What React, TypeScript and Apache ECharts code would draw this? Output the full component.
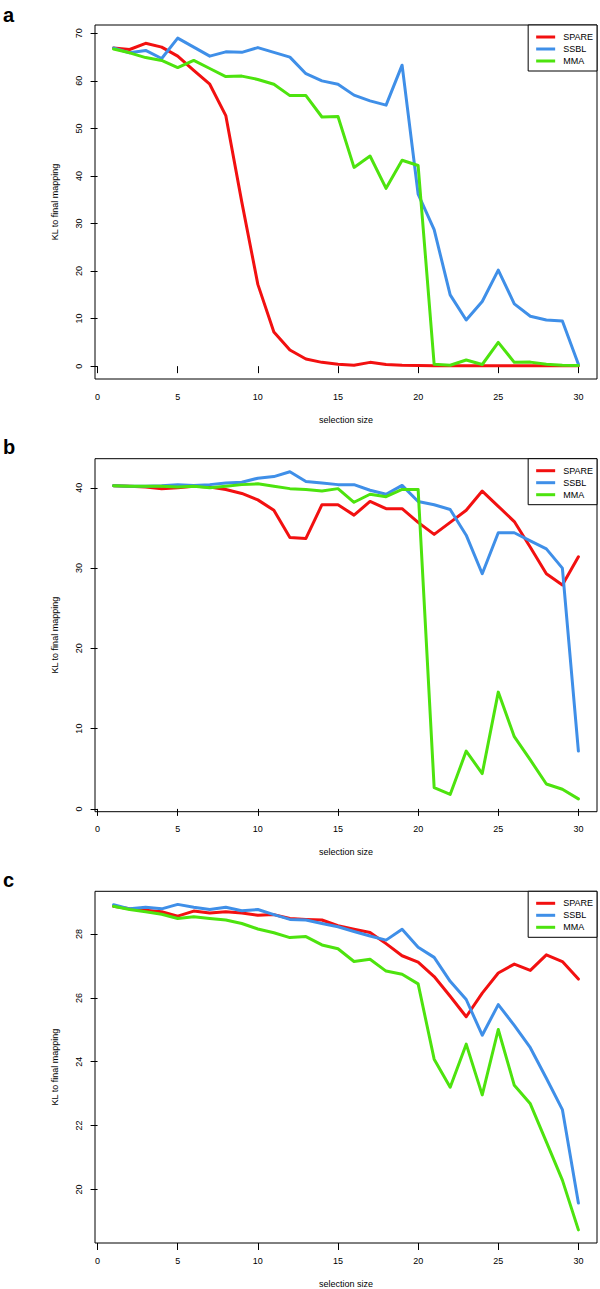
import React, { useEffect, useRef } from "react";
import * as echarts from "echarts";

const selectionSize = [1, 2, 3, 4, 5, 6, 7, 8, 9, 10, 11, 12, 13, 14, 15, 16, 17, 18, 19, 20, 21, 22, 23, 24, 25, 26, 27, 28, 29, 30];
const seriesNames = ["SPARE", "SSBL", "MMA"];
const seriesColors = ["#F21010", "#3F8FE8", "#4DE30E"];
const xTicks = [0, 5, 10, 15, 20, 25, 30];

// panel a
const aSpare = [66.9, 66.6, 67.9, 67.1, 65.2, 62.2, 59.3, 52.7, 34.5, 17.2, 7.2, 3.4, 1.5, 0.8, 0.4, 0.2, 0.8, 0.35, 0.2, 0.15, 0.1, 0.1, 0.1, 0.1, 0.1, 0.1, 0.1, 0.1, 0.1, 0.1];
const aSsbl = [66.9, 65.9, 66.4, 64.7, 69.0, 67.1, 65.2, 66.1, 66.0, 67.0, 66.0, 65.0, 61.5, 60.0, 59.3, 57.0, 55.8, 54.9, 63.3, 36.2, 28.7, 15.0, 9.7, 13.6, 20.2, 13.1, 10.5, 9.7, 9.5, 0.4];
const aMma = [66.7, 65.9, 64.9, 64.3, 62.8, 64.3, 62.6, 60.9, 61.0, 60.3, 59.3, 56.9, 56.9, 52.4, 52.5, 41.8, 44.2, 37.4, 43.3, 42.2, 0.4, 0.2, 1.3, 0.35, 5.0, 0.8, 0.85, 0.4, 0.2, 0.15];
const aYTicks = [0, 10, 20, 30, 40, 50, 60, 70];

// panel b
const bSpare = [40.26, 40.2, 40.1, 39.9, 40.0, 40.2, 40.1, 39.8, 39.3, 38.5, 37.2, 33.8, 33.7, 37.9, 37.9, 36.6, 38.3, 37.4, 37.4, 35.7, 34.2, 35.7, 37.2, 39.6, 37.7, 35.8, 32.6, 29.3, 27.9, 31.4];
const bSsbl = [40.26, 40.2, 40.2, 40.26, 40.4, 40.3, 40.4, 40.6, 40.7, 41.2, 41.4, 42.0, 40.8, 40.6, 40.4, 40.4, 39.7, 39.2, 40.3, 38.3, 37.9, 37.3, 34.1, 29.3, 34.4, 34.4, 33.4, 32.4, 30.0, 7.2];
const bMma = [40.26, 40.2, 40.2, 40.2, 40.1, 40.2, 40.0, 40.2, 40.4, 40.5, 40.2, 39.9, 39.8, 39.6, 39.9, 38.2, 39.2, 38.9, 39.8, 39.8, 2.65, 1.8, 7.2, 4.4, 14.55, 9.0, 6.1, 3.1, 2.45, 1.25];
const bYTicks = [0, 10, 20, 30, 40];

// panel c
const cSpare = [28.87, 28.79, 28.75, 28.7, 28.56, 28.72, 28.66, 28.7, 28.66, 28.59, 28.61, 28.49, 28.46, 28.44, 28.26, 28.15, 28.05, 27.7, 27.32, 27.12, 26.67, 26.05, 25.41, 26.15, 26.78, 27.06, 26.86, 27.35, 27.14, 26.59];
const cSsbl = [28.92, 28.79, 28.84, 28.79, 28.93, 28.84, 28.77, 28.84, 28.73, 28.77, 28.61, 28.46, 28.44, 28.33, 28.23, 28.08, 27.94, 27.81, 28.15, 27.59, 27.27, 26.52, 25.95, 24.83, 25.79, 25.14, 24.44, 23.48, 22.5, 19.57];
const cMma = [28.87, 28.77, 28.7, 28.62, 28.49, 28.54, 28.49, 28.44, 28.33, 28.16, 28.04, 27.89, 27.92, 27.66, 27.54, 27.14, 27.21, 26.84, 26.74, 26.44, 24.08, 23.2, 24.55, 22.96, 25.01, 23.26, 22.68, 21.49, 20.29, 18.73];
const cYTicks = [20, 22, 24, 26, 28];

const FONT = "'Liberation Sans', Arial, Helvetica, sans-serif";

const panels = [
  { label: "a", data: [aSpare, aSsbl, aMma], yTicks: aYTicks, yMin: -2.7, yMax: 71.75, top: 25, height: 354, labelY: 15 },
  { label: "b", data: [bSpare, bSsbl, bMma], yTicks: bYTicks, yMin: -0.35, yMax: 43.63, top: 458.7, height: 353, labelY: 447 },
  { label: "c", data: [cSpare, cSsbl, cMma], yTicks: cYTicks, yMin: 18.32, yMax: 29.34, top: 891.3, height: 353.7, labelY: 880 },
];

export default function App() {
  const ref = useRef<HTMLDivElement>(null);
  useEffect(() => {
    if (!ref.current) return;
    const chart = echarts.init(ref.current, undefined, { renderer: "svg" });
    const grids: any[] = [];
    const xAxes: any[] = [];
    const yAxes: any[] = [];
    const series: any[] = [];
    const legends: any[] = [];
    const graphics: any[] = [];
    panels.forEach((p, i) => {
      grids.push({
        left: 95,
        width: 502,
        top: p.top,
        height: p.height,
        show: true,
        borderColor: "#000",
        borderWidth: 1,
        backgroundColor: "transparent",
      });
      xAxes.push({
        type: "value",
        gridIndex: i,
        min: -0.16,
        max: 31.16,
        name: "selection size",
        nameLocation: "middle",
        nameGap: 36,
        nameTextStyle: { fontSize: 9, color: "#000", fontFamily: FONT },
        axisLine: { show: false },
        splitLine: { show: false },
        axisTick: { show: true, length: 7, customValues: xTicks, lineStyle: { color: "#000", width: 1 } },
        axisLabel: { customValues: xTicks, fontSize: 9, color: "#000", margin: 13, fontFamily: FONT },
      });
      yAxes.push({
        type: "value",
        gridIndex: i,
        min: p.yMin,
        max: p.yMax,
        name: "KL to final mapping",
        nameLocation: "middle",
        nameRotate: 90,
        nameGap: 36,
        nameTextStyle: { fontSize: 9, color: "#000", fontFamily: FONT },
        axisLine: { show: false },
        splitLine: { show: false },
        axisTick: { show: true, length: 7, customValues: p.yTicks, lineStyle: { color: "#000", width: 1 } },
        axisLabel: { customValues: p.yTicks, rotate: 90, fontSize: 9, color: "#000", margin: 12, fontFamily: FONT },
      });
      p.data.forEach((vals, k) => {
        series.push({
          type: "line",
          name: seriesNames[k],
          xAxisIndex: i,
          yAxisIndex: i,
          data: selectionSize.map((x, j) => [x, vals[j]]),
          symbol: "none",
          color: seriesColors[k],
          lineStyle: { width: 3, color: seriesColors[k], cap: "round", join: "round" },
          z: 2 + k,
        });
      });
      legends.push({
        orient: "vertical",
        right: 3,
        top: p.top,
        data: seriesNames,
        icon: "rect",
        itemWidth: 19,
        itemHeight: 3,
        itemGap: 0,
        padding: [6, 4, 4, 8],
        borderColor: "#000",
        borderWidth: 1,
        backgroundColor: "#fff",
        selectedMode: false,
        textStyle: { fontSize: 9, color: "#000", lineHeight: 12, fontFamily: FONT, padding: [0, 0, 0, 3] },
      });
      graphics.push({
        type: "text",
        left: 3,
        top: p.labelY - 10,
        style: { text: p.label, fontSize: 20, fontWeight: "bold", fill: "#000", fontFamily: FONT },
      });
    });
    chart.setOption({
      animation: false,
      backgroundColor: "#fff",
      grid: grids,
      xAxis: xAxes,
      yAxis: yAxes,
      legend: legends,
      series,
      graphic: graphics,
    });
    return () => chart.dispose();
  }, []);
  return <div ref={ref} style={{ position: "absolute", left: 0, top: 0, width: 600, height: 1289 }} />;
}
